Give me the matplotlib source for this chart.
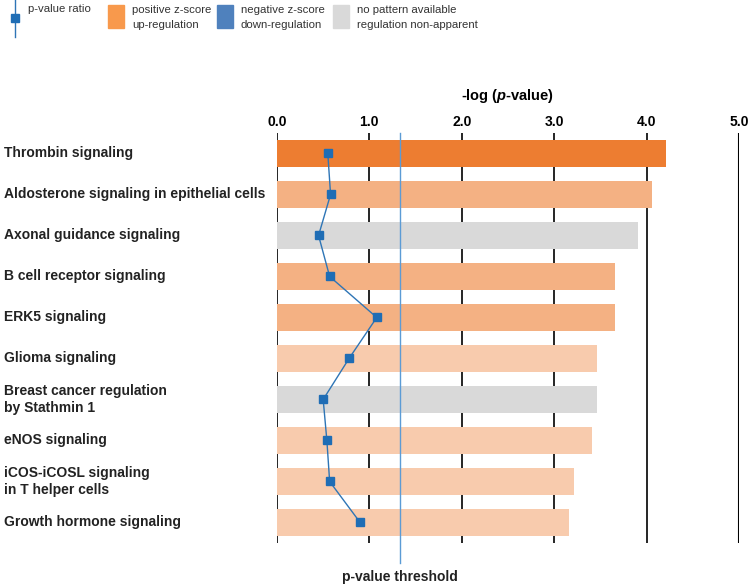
import matplotlib

matplotlib.use("Agg")

import matplotlib.pyplot as plt
from matplotlib.lines import Line2D
from matplotlib.patches import Rectangle
from matplotlib.transforms import blended_transform_factory

plt.rcParams["font.family"] = ["Liberation Sans", "DejaVu Sans"]
plt.rcParams["mathtext.fontset"] = "custom"
plt.rcParams["mathtext.it"] = "Liberation Sans:italic:bold"
plt.rcParams["mathtext.rm"] = "Liberation Sans:bold"

pathways = [
    "Thrombin signaling",
    "Aldosterone signaling in epithelial cells",
    "Axonal guidance signaling",
    "B cell receptor signaling",
    "ERK5 signaling",
    "Glioma signaling",
    "Breast cancer regulation\nby Stathmin 1",
    "eNOS signaling",
    "iCOS-iCOSL signaling\nin T helper cells",
    "Growth hormone signaling",
]
neg_log_p = [4.21, 4.06, 3.91, 3.66, 3.66, 3.46, 3.46, 3.41, 3.21, 3.16]
ratio = [0.55, 0.58, 0.45, 0.57, 1.08, 0.78, 0.50, 0.54, 0.57, 0.90]
bar_colors = ["#ED7D31", "#F4B183", "#D9D9D9", "#F4B183", "#F4B183",
              "#F8CBAD", "#D9D9D9", "#F8CBAD", "#F8CBAD", "#F8CBAD"]
threshold = 1.33
ticks = [0, 1, 2, 3, 4, 5]

fig = plt.figure(figsize=(7.5, 5.85), dpi=100)
ax = fig.add_axes([0.3693, 0.0718, 0.6160, 0.7009])

y = list(range(len(pathways)))
for t in ticks:
    ax.axvline(t, color="black", lw=1.5 if t == 5 else 1.2, zorder=0)
ax.barh(y, neg_log_p, height=0.64, color=bar_colors, zorder=1)
ax.axvline(threshold, ymin=-0.049, ymax=1.0, color="#5B9BD5", lw=1.0,
           zorder=2, clip_on=False)
ax.plot(ratio, y, color="#2E75B6", lw=1.0, marker="s", markersize=6,
        markerfacecolor="#1F6DB5", markeredgecolor="#1F6DB5", zorder=3)

ax.set_xlim(0, 5)
ax.set_ylim(len(pathways) - 0.5, -0.5)
ax.xaxis.tick_top()
ax.set_xticks(ticks)
ax.set_xticklabels([f"{t:.1f}" for t in ticks], fontsize=10, fontweight="bold")
ax.tick_params(axis="x", length=0, pad=3)
ax.set_yticks([])
for s in ax.spines.values():
    s.set_visible(False)

ax.text(0.5, 1.09, r"-log ($\mathit{p}$-value)", transform=ax.transAxes,
        ha="center", va="center", fontsize=10.5, fontweight="bold")

trans = blended_transform_factory(fig.transFigure, ax.transData)
for i, name in enumerate(pathways):
    ax.text(0.005, i, name, transform=trans, ha="left", va="center",
            fontsize=10, fontweight="bold", color="#222222", linespacing=1.3)

ax.text(threshold, -0.083, "p-value threshold",
        transform=blended_transform_factory(ax.transData, ax.transAxes),
        ha="center", va="center", fontsize=10, fontweight="bold", color="#222222")

# legend
fig.add_artist(Line2D([0.020, 0.020], [1.0, 0.937], color="#2E75B6", lw=1.0,
                      transform=fig.transFigure))
fig.add_artist(Line2D([0.020], [0.969], marker="s", markersize=6, color="#1F6DB5",
                      transform=fig.transFigure))
fig.text(0.037, 0.985, "p-value ratio", fontsize=8.2, va="center", color="#333333")

legend_items = [
    (0.144, "#F8994C", "positive z-score\nup-regulation"),
    (0.289, "#4F81BD", "negative z-score\ndown-regulation"),
    (0.444, "#D9D9D9", "no pattern available\nregulation non-apparent"),
]
for x0, col, lab in legend_items:
    fig.add_artist(Rectangle((x0, 0.952), 0.021, 0.039, color=col,
                             transform=fig.transFigure))
    fig.text(x0 + 0.032, 0.970, lab, fontsize=8.2, va="center", ha="left",
             color="#333333", linespacing=1.6)

fig.savefig("out.png", dpi=100)
plt.close(fig)
